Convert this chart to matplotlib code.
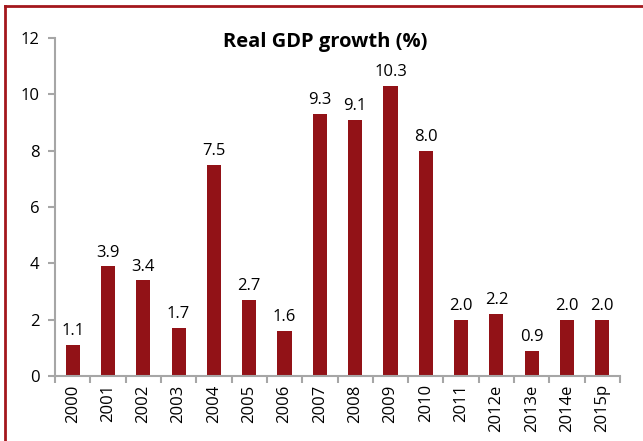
import matplotlib.pyplot as plt
from matplotlib.lines import Line2D

years = ['2000', '2001', '2002', '2003', '2004', '2005', '2006', '2007',
         '2008', '2009', '2010', '2011', '2012e', '2013e', '2014e', '2015p']
growth = [1.1, 3.9, 3.4, 1.7, 7.5, 2.7, 1.6, 9.3, 9.1, 10.3, 8.0, 2.0, 2.2, 0.9, 2.0, 2.0]

BAR_COLOR = '#921217'
AXIS_COLOR = '#a6a6a6'

plt.rcParams['font.family'] = ['Open Sans', 'DejaVu Sans']

fig = plt.figure(figsize=(6.43, 4.41), dpi=100)
ax = fig.add_axes([55 / 643, 1 - 376 / 441, 565 / 643, 338 / 441])

x = list(range(len(years)))
bars = ax.bar(x, growth, width=0.4, color=BAR_COLOR)
for xi, v in zip(x, growth):
    ax.text(xi, v + 0.2, f'{v:.1f}', ha='center', va='bottom', fontsize=12)

ax.set_xlim(-0.5, len(years) - 0.5)
ax.set_ylim(0, 12)
ax.set_yticks(range(0, 13, 2))
ax.tick_params(axis='y', labelsize=12, color=AXIS_COLOR, length=5, width=1.5, pad=6)

# tick marks sit between categories, labels centred under bars
ax.set_xticks([i - 0.5 for i in range(len(years) + 1)])
ax.set_xticklabels([])
ax.set_xticks(x, minor=True)
ax.set_xticklabels(years, minor=True, rotation=90, fontsize=12)
ax.tick_params(axis='x', which='major', color=AXIS_COLOR, length=5, width=1.5, direction='out')
ax.tick_params(axis='x', which='minor', length=0, pad=6)

for s in ['top', 'right']:
    ax.spines[s].set_visible(False)
for s in ['left', 'bottom']:
    ax.spines[s].set_color(AXIS_COLOR)
    ax.spines[s].set_linewidth(1.5)

fig.text(325 / 643, 1 - 42 / 441, 'Real GDP growth (%)', ha='center', va='center',
         fontsize=14.5, fontweight='bold')

# dark red frame (top and left edge visible)
fig.add_artist(Line2D([4.5 / 643, 4.5 / 643], [0, 1 - 5.5 / 441], transform=fig.transFigure,
                      color='#a3171d', lw=2))
fig.add_artist(Line2D([4.5 / 643, 1], [1 - 5.5 / 441, 1 - 5.5 / 441], transform=fig.transFigure,
                      color='#a3171d', lw=2))

fig.savefig('out.png', dpi=100)
